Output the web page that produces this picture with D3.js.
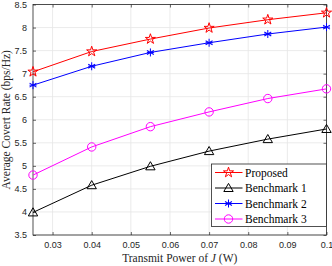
<!DOCTYPE html>
<html lang="en">
<head>
  <meta charset="UTF-8">
  <title>Average Covert Rate</title>
  <script src="https://d3js.org/d3.v7.min.js"></script>
  <style>
    body { margin: 0; background: #fff; }
    .tick text { font: 9px "Liberation Sans", sans-serif; fill: #262626; }
    .lbl { font: 11.5px "Liberation Serif", "DejaVu Serif", serif; fill: #262626; }
    .leg { font: 11.5px "Liberation Serif", "DejaVu Serif", serif; fill: #000; }
  </style>
</head>
<body>
  <svg width="332" height="266"></svg>
  <script>
    const powers = [0.025, 0.04, 0.055, 0.07, 0.085, 0.1];
    const proposed = [7.04, 7.48, 7.75, 7.99, 8.17, 8.32];
    const bench1 = [3.99, 4.58, 4.99, 5.32, 5.58, 5.80];
    const bench2 = [6.75, 7.16, 7.46, 7.67, 7.86, 8.01];
    const bench3 = [4.80, 5.41, 5.85, 6.17, 6.46, 6.67];
    const xTicks = [0.03, 0.04, 0.05, 0.06, 0.07, 0.08, 0.09, 0.1];
    const yTicks = [3.5, 4, 4.5, 5, 5.5, 6, 6.5, 7, 7.5, 8, 8.5];

    const series = [
      { name: 'Proposed', values: proposed, color: '#ff0000', marker: 'star' },
      { name: 'Benchmark 1', values: bench1, color: '#000000', marker: 'triangle' },
      { name: 'Benchmark 2', values: bench2, color: '#0000ff', marker: 'asterisk' },
      { name: 'Benchmark 3', values: bench3, color: '#ff00ff', marker: 'circle' }
    ];

    const svg = d3.select('svg');
    const pL = 33, pR = 326.5, pT = 4.5, pB = 235;

    const x = d3.scaleLinear().domain([0.025, 0.1]).range([pL, pR]);
    const y = d3.scaleLinear().domain([3.5, 8.5]).range([pB, pT]);

    // grid
    svg.append('g').selectAll('line').data(xTicks).join('line')
      .attr('x1', d => x(d)).attr('x2', d => x(d))
      .attr('y1', pT).attr('y2', pB)
      .attr('stroke', '#e6e6e6').attr('stroke-width', 0.8);
    svg.append('g').selectAll('line').data(yTicks).join('line')
      .attr('x1', pL).attr('x2', pR)
      .attr('y1', d => y(d)).attr('y2', d => y(d))
      .attr('stroke', '#e6e6e6').attr('stroke-width', 0.8);

    // axes (ticks inside, MATLAB style)
    const axStyle = g => {
      g.select('.domain').remove();
      g.selectAll('.tick line').attr('stroke', '#262626').attr('stroke-width', 0.7);
    };
    svg.append('g').attr('transform', `translate(0,${pB})`)
      .call(d3.axisBottom(x).tickValues(xTicks).tickSizeInner(-3).tickPadding(7).tickFormat(d3.format('')))
      .call(axStyle);
    svg.append('g').attr('transform', `translate(0,${pT})`)
      .call(d3.axisTop(x).tickValues(xTicks).tickSizeInner(-3).tickFormat(''))
      .call(axStyle);
    svg.append('g').attr('transform', `translate(${pL},0)`)
      .call(d3.axisLeft(y).tickValues(yTicks).tickSizeInner(-3).tickPadding(6).tickFormat(d3.format('')))
      .call(axStyle);
    svg.append('g').attr('transform', `translate(${pR},0)`)
      .call(d3.axisRight(y).tickValues(yTicks).tickSizeInner(-3).tickFormat(''))
      .call(axStyle);

    svg.append('rect')
      .attr('x', pL).attr('y', pT)
      .attr('width', pR - pL).attr('height', pB - pT)
      .attr('fill', 'none').attr('stroke', '#262626').attr('stroke-width', 0.8);

    // markers
    const starPath = d3.symbol().type(d3.symbolStar).size(32)();
    const triPath = d3.symbol().type(d3.symbolTriangle).size(38)();
    function drawMarker(g, type, color) {
      if (type === 'star') {
        g.append('path').attr('d', starPath).attr('fill', 'none').attr('stroke', color).attr('stroke-width', 1);
      } else if (type === 'triangle') {
        g.append('path').attr('d', triPath).attr('transform', 'translate(0,0.8)')
          .attr('fill', 'none').attr('stroke', color).attr('stroke-width', 1);
      } else if (type === 'circle') {
        g.append('circle').attr('r', 4.2).attr('fill', 'none').attr('stroke', color).attr('stroke-width', 1);
      } else if (type === 'asterisk') {
        [0, 60, 120].forEach(a => {
          g.append('line').attr('x1', 0).attr('y1', -4).attr('x2', 0).attr('y2', 4)
            .attr('transform', `rotate(${a})`)
            .attr('stroke', color).attr('stroke-width', 1);
        });
        g.append('line').attr('x1', -3.5).attr('x2', 3.5).attr('y1', 0).attr('y2', 0)
          .attr('stroke', color).attr('stroke-width', 1);
      }
    }

    const line = d3.line().x((d, i) => x(powers[i])).y(d => y(d));

    series.forEach(s => {
      svg.append('path').datum(s.values)
        .attr('d', line).attr('fill', 'none')
        .attr('stroke', s.color).attr('stroke-width', 1);
      s.values.forEach((v, i) => {
        const g = svg.append('g').attr('transform', `translate(${x(powers[i])},${y(v)})`);
        drawMarker(g, s.marker, s.color);
      });
    });

    // legend
    const lx = 211.5, ly = 164, lw = pR - lx, lh = 62.5;
    svg.append('rect').attr('x', lx).attr('y', ly).attr('width', lw).attr('height', lh)
      .attr('fill', '#fff').attr('stroke', '#262626').attr('stroke-width', 0.8);
    series.forEach((s, i) => {
      const cy = ly + 8.5 + i * 15.5;
      svg.append('line').attr('x1', lx + 3.5).attr('x2', lx + 31)
        .attr('y1', cy).attr('y2', cy).attr('stroke', s.color).attr('stroke-width', 1);
      const g = svg.append('g').attr('transform', `translate(${lx + 17},${cy})`);
      drawMarker(g, s.marker, s.color);
      svg.append('text').attr('class', 'leg')
        .attr('x', lx + 33.5).attr('y', cy + 4)
        .text(s.name);
    });

    // axis labels
    const xl = svg.append('text').attr('class', 'lbl')
      .attr('x', (pL + pR) / 2).attr('y', 262)
      .attr('text-anchor', 'middle');
    xl.append('tspan').text('Transmit Power of ');
    xl.append('tspan').attr('font-style', 'italic').text('J');
    xl.append('tspan').text(' (W)');

    svg.append('text').attr('class', 'lbl')
      .attr('transform', `translate(10,${(pT + pB) / 2}) rotate(-90)`)
      .attr('text-anchor', 'middle')
      .text('Average Covert Rate (bps/Hz)');
  </script>
</body>
</html>
